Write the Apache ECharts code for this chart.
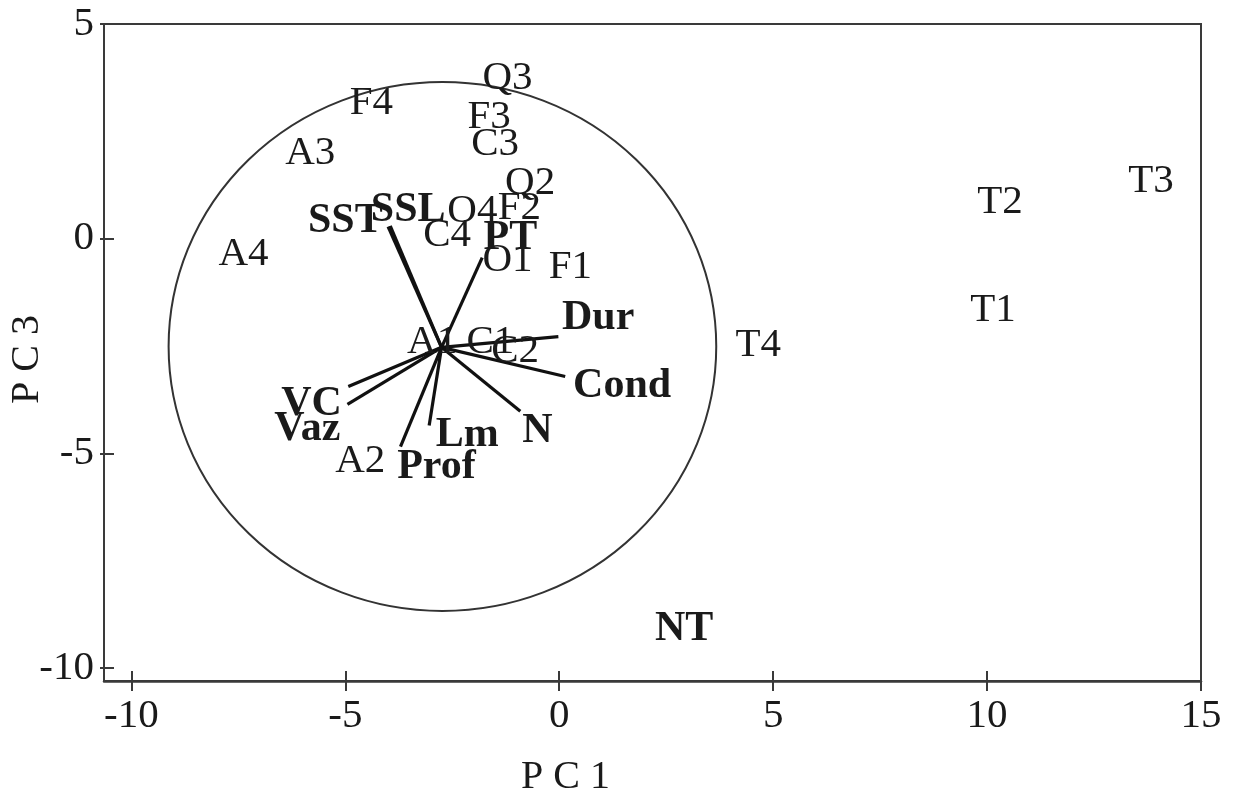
<!DOCTYPE html>
<html>
<head>
<meta charset="utf-8">
<script src="https://cdn.jsdelivr.net/npm/echarts@6/dist/echarts.min.js"></script>
<style>html,body{margin:0;padding:0;background:#fff;}#c{width:1238px;height:793px;}</style>
</head>
<body>
<div id="c"></div>
<script>
// Observation scores (sites)
var obsNames = ['F4','A3','A4','Q3','F3','C3','Q2','O4','F2','C4','O1','F1','A1','C1','C2','A2','T4','T1','T2','T3'];
var obsX = [-4.39,-5.82,-7.38,-1.21,-1.64,-1.50,-0.68,-2.03,-0.93,-2.62,-1.21,0.26,-2.97,-1.61,-1.03,-4.65,4.65,10.14,10.30,13.83];
var obsY = [3.16,2.00,-0.37,3.74,2.84,2.19,1.30,0.63,0.72,0.07,-0.51,-0.67,-2.42,-2.40,-2.63,-5.19,-2.49,-1.67,0.86,1.35];

// Variable vectors (loadings) — origin and end points
var vecOrigin = [-2.75, -2.53];
var vecNames = ['SST','SSL','PT','Dur','Cond','N','Lm','Prof','VC','Vaz'];
var vecEndX = [-4.00,-3.95,-1.80,-0.02,0.14,-0.91,-3.04,-3.71,-4.93,-4.95];
var vecEndY = [0.28,0.30,-0.44,-2.28,-3.21,-4.02,-4.35,-4.84,-3.44,-3.86];
// Variable label positions
var varLabelNames = ['SST','SSL','PT','Dur','Cond','N','Lm','Prof','VC','Vaz','NT'];
var varLabelX = [-5.00,-3.53,-1.14,0.91,1.47,-0.51,-2.15,-2.87,-5.79,-5.89,2.92];
var varLabelY = [0.40,0.67,0.02,-1.84,-3.44,-4.49,-4.58,-5.33,-3.86,-4.44,-9.09];

// Equilibrium circle
var circleCenter = [-2.73, -2.51];
var circleRadius = [6.40, 6.16];

var xTicks = [-10, -5, 0, 5, 10, 15];
var yTicks = [-10, -5, 0, 5];

var FONT = "'Liberation Serif','Times New Roman',serif";
var INK = '#1a1a1a';

var chart = echarts.init(document.getElementById('c'), null, {renderer: 'canvas'});

var obsData = obsNames.map(function (n, i) { return [obsX[i], obsY[i], n]; });
var varData = varLabelNames.map(function (n, i) { return [varLabelX[i], varLabelY[i], n]; });
var vecData = vecNames.map(function (n, i) { return {coords: [vecOrigin, [vecEndX[i], vecEndY[i]]]}; });

function textSeries(data, font) {
  return {
    type: 'custom',
    xAxisIndex: 0, yAxisIndex: 0,
    silent: true,
    data: data,
    dimensions: ['x', 'y', 'name'],
    encode: {x: 0, y: 1},
    renderItem: function (params, api) {
      var p = api.coord([api.value(0), api.value(1)]);
      return {
        type: 'text',
        x: p[0], y: p[1],
        style: {text: data[params.dataIndex][2], font: font, fill: INK, align: 'center', verticalAlign: 'middle'}
      };
    }
  };
}

var axisColor = '#3a3a3a';
var option = {
  backgroundColor: '#fff',
  animation: false,
  grid: {left: 104, right: 37, top: 24, bottom: 112, show: true, borderColor: axisColor, borderWidth: 2, containLabel: false, outerBoundsMode: 'none'},
  xAxis: [{
    type: 'value', min: -10.64, max: 15, position: 'bottom',
    name: 'P C 1', nameLocation: 'middle', nameGap: 76,
    nameTextStyle: {fontFamily: FONT, fontSize: 40, color: INK, padding: [0, 174, 0, 0]},
    axisLine: {show: true, onZero: false, lineStyle: {color: axisColor, width: 2.5}},
    axisTick: {show: true, inside: false, length: 10, customValues: xTicks, lineStyle: {color: axisColor, width: 2}},
    axisLabel: {show: true, customValues: xTicks, margin: 15, fontFamily: FONT, fontSize: 41, color: INK},
    splitLine: {show: false}
  }, {
    type: 'value', min: -10.64, max: 15, position: 'bottom',
    axisLine: {show: false, onZero: false},
    axisTick: {show: true, inside: true, length: 10, customValues: xTicks, lineStyle: {color: axisColor, width: 2}},
    axisLabel: {show: false},
    splitLine: {show: false}
  }],
  yAxis: [{
    type: 'value', min: -10.3, max: 5, position: 'left',
    name: 'P C 3', nameLocation: 'middle', nameGap: 57, nameRotate: 90, nameMoveOverlap: false,
    nameTextStyle: {fontFamily: FONT, fontSize: 40, color: INK, padding: [0, 14, 0, 0]},
    axisLine: {show: true, onZero: false, lineStyle: {color: axisColor, width: 2}},
    axisTick: {show: true, inside: false, length: 4, customValues: yTicks, lineStyle: {color: axisColor, width: 2}},
    axisLabel: {show: true, customValues: yTicks, margin: 10, fontFamily: FONT, fontSize: 41, color: INK},
    splitLine: {show: false}
  }, {
    type: 'value', min: -10.3, max: 5, position: 'left',
    axisLine: {show: false, onZero: false},
    axisTick: {show: true, inside: true, length: 10, customValues: yTicks, lineStyle: {color: axisColor, width: 2}},
    axisLabel: {show: false},
    splitLine: {show: false}
  }],
  series: [
    {
      type: 'custom',
      xAxisIndex: 0, yAxisIndex: 0,
      data: [[circleCenter[0], circleCenter[1], circleRadius[0], circleRadius[1]]],
      silent: true,
      renderItem: function (params, api) {
        var c = api.coord([api.value(0), api.value(1)]);
        var s = api.size([api.value(2), api.value(3)]);
        return {
          type: 'circle',
          x: c[0], y: c[1],
          scaleX: 1, scaleY: s[1] / s[0],
          shape: {cx: 0, cy: 0, r: s[0]},
          style: {fill: 'none', stroke: '#333', lineWidth: 2, strokeNoScale: true}
        };
      }
    },
    {
      type: 'lines',
      coordinateSystem: 'cartesian2d',
      xAxisIndex: 0, yAxisIndex: 0,
      silent: true,
      data: vecData,
      lineStyle: {color: '#111', width: 3.2, opacity: 1},
      symbol: ['none', 'none']
    },
    textSeries(obsData, "normal 41px 'Liberation Serif','Times New Roman',serif"),
    textSeries(varData, "bold 42px 'Liberation Serif','Times New Roman',serif")
  ]
};
chart.setOption(option);
</script>
</body>
</html>
